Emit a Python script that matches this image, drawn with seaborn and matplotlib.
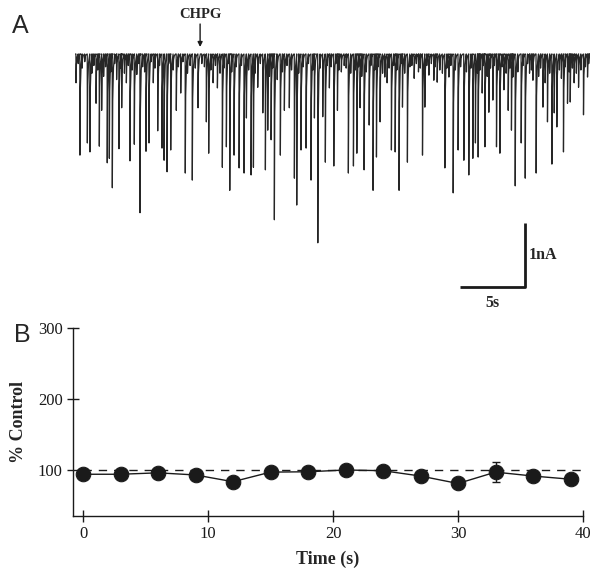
import numpy as np
import pandas as pd
import seaborn as sns
import matplotlib.pyplot as plt

sns.set_theme(style="white")
plt.rcParams['font.family'] = ['Liberation Serif', 'DejaVu Serif']

# ------------------------------------------------------------
# Panel A: dados do registro (tempo do evento em s, amplitude em nA)
# ------------------------------------------------------------
big_t = [0.08, 0.38, 0.95, 1.15, 1.62, 1.87, 2.05, 2.48, 2.64, 2.87, 3.38, 3.59,
         4.23, 4.56, 5.00, 5.46, 5.69, 6.02, 6.36, 6.69, 6.85, 7.08, 7.36, 7.79,
         8.13, 8.48, 9.02, 9.46, 10.10, 10.28, 10.62, 10.95, 11.33, 11.64, 11.90,
         12.23, 12.62, 13.00, 13.18, 13.54, 13.72, 14.05, 14.44, 14.64, 14.82,
         15.08, 15.33, 15.79, 16.10, 16.48, 16.87, 17.05, 17.38, 17.77, 18.15,
         18.41, 18.67, 19.05, 19.25, 19.56, 19.90, 20.18, 20.48, 21.02, 21.41,
         21.67, 21.92, 22.23, 22.62, 22.92, 23.18, 23.46, 23.82, 24.33, 24.62,
         24.92, 25.18, 25.56, 26.08, 26.41, 26.72, 26.90, 27.21, 27.59, 27.85,
         28.44, 28.75, 29.08, 29.46, 29.90, 30.28, 30.59, 30.79, 31.00, 31.31,
         31.52, 31.82, 32.13, 32.41, 32.67, 32.98, 33.31, 33.56, 33.67, 33.85,
         34.31, 34.62, 34.95, 35.21, 35.46, 35.98, 36.33, 36.67, 36.85, 37.05,
         37.56, 37.87, 38.08, 38.38, 38.72, 39.10, 39.41]
big_a = [0.45, 1.58, 1.39, 1.53, 0.77, 1.44, 0.88, 1.70, 1.63, 2.09, 1.48, 0.84,
         1.67, 1.41, 2.48, 1.52, 1.39, 0.45, 1.20, 1.47, 1.66, 1.84, 1.50, 0.88,
         0.61, 1.86, 1.97, 0.84, 1.06, 1.55, 0.45, 0.53, 1.77, 1.45, 2.13,
         1.58, 1.78, 1.86, 1.00, 1.89, 1.77, 0.52, 0.92, 1.81, 1.19,
         1.34, 2.59, 1.58, 0.88, 0.84, 1.94, 2.36, 1.50, 1.47, 1.97,
         1.00, 2.95, 0.98, 1.69, 0.53, 1.75, 0.88, 0.28, 1.86, 1.75,
         1.55, 0.84, 1.81, 1.11, 2.13, 1.61, 1.06, 0.36, 1.50, 1.53,
         2.13, 0.83, 1.69, 0.38, 0.28, 1.58, 0.83, 0.33, 0.41, 0.44,
         1.78, 0.36, 2.17, 1.50, 1.66, 1.89, 1.63, 1.39, 1.61, 0.61,
         1.45, 0.91, 0.72, 1.45, 1.55, 0.56, 0.88, 1.19, 0.36, 2.06,
         1.39, 1.94, 0.30, 0.41, 1.86, 0.83, 1.06, 1.72, 0.92, 1.14,
         1.53, 0.77, 0.75, 0.45, 0.52, 0.95, 0.36]

# eventos pequenos que formam a faixa escura junto da linha de base
small_t = [0.25, 0.55, 0.75, 1.30, 1.45, 1.75, 2.20, 2.35, 2.75, 3.05, 3.20, 3.50,
           3.80, 3.95, 4.10, 4.40, 4.75, 4.90, 5.20, 5.35, 5.85, 6.15, 6.50, 7.20,
           7.55, 7.95, 8.30, 8.65, 8.85, 9.25, 9.75, 9.95, 10.45, 10.80, 11.15,
           11.45, 11.80, 12.05, 12.40, 12.80, 13.35, 13.85, 14.25, 14.95, 15.20,
           15.55, 15.95, 16.30, 16.65, 17.20, 17.55, 17.95, 18.30, 18.85, 19.40,
           19.70, 20.05, 20.30, 20.70, 20.85, 21.20, 21.55, 21.80, 22.05, 22.40,
           22.75, 23.05, 23.30, 23.65, 24.00, 24.15, 24.50, 24.75, 25.05, 25.35,
           25.75, 25.90, 26.25, 26.55, 27.05, 27.40, 27.70, 28.05, 28.25, 28.60,
           28.90, 29.25, 29.65, 30.10, 30.45, 30.95, 31.15, 31.40, 31.70, 31.95,
           32.25, 32.55, 32.85, 33.15, 33.45, 34.05, 34.45, 34.80, 35.10, 35.65,
           35.80, 36.15, 36.50, 37.25, 37.40, 37.70, 38.00, 38.25, 38.55, 38.90,
           39.25, 39.50]
small_a = [0.15, 0.22, 0.12, 0.30, 0.18, 0.25, 0.35, 0.20, 0.28, 0.15, 0.40, 0.22,
           0.30, 0.45, 0.18, 0.25, 0.32, 0.15, 0.20, 0.28, 0.12, 0.22, 0.18, 0.15,
           0.25, 0.20, 0.12, 0.30, 0.18, 0.22, 0.15, 0.20, 0.25, 0.18, 0.30,
           0.22, 0.15, 0.28, 0.20, 0.18, 0.25, 0.30, 0.15, 0.35, 0.22,
           0.40, 0.28, 0.18, 0.25, 0.30, 0.20, 0.15, 0.25, 0.22, 0.18,
           0.20, 0.15, 0.25, 0.18, 0.22, 0.30, 0.25, 0.20, 0.35, 0.28,
           0.18, 0.25, 0.20, 0.30, 0.45, 0.22, 0.18, 0.25, 0.15, 0.30,
           0.20, 0.18, 0.15, 0.22, 0.18, 0.15, 0.20, 0.25, 0.30, 0.22,
           0.18, 0.25, 0.20, 0.28, 0.22, 0.30, 0.25, 0.18, 0.35, 0.22,
           0.18, 0.25, 0.20, 0.30, 0.22, 0.28, 0.18, 0.15, 0.25, 0.35,
           0.22, 0.45, 0.30, 0.25, 0.38, 0.20, 0.28, 0.22, 0.30, 0.25,
           0.20, 0.15]
trace_end = 39.6

# ------------------------------------------------------------
# Panel B: % do controle ao longo do tempo
# ------------------------------------------------------------
time_b = [0, 3, 6, 9, 12, 15, 18, 21, 24, 27, 30, 33, 36, 39]
pct_b = [94, 94, 96, 93, 83.5, 97, 97.5, 100, 99, 91.5, 81, 97, 91.5, 87]
err_b = [0, 0, 0, 0, 0, 0, 0, 0, 0, 0, 0, 14, 0, 0]
control_level = 100

# montar o traço: subida rápida, volta mais lenta à linha de base
ev = sorted(zip(big_t + small_t, big_a + small_a))
tt, ii = [0.0], [0.0]
for t, a in ev:
    tt += [t - 0.01, t, t + 0.03, t + 0.09, t + 0.18]
    ii += [0.0, -a, -0.35 * a, -0.1 * a, 0.0]
tt.append(trace_end)
ii.append(0.0)
trace = pd.DataFrame({"t": tt, "i": ii})

fig = plt.figure(figsize=(6.0, 5.81), dpi=100)

# ---------------- Panel A ----------------
axA = fig.add_axes([75 / 600, 271 / 581, 515 / 600, 270 / 581])
sns.lineplot(data=trace, x="t", y="i", sort=False, estimator=None,
             color="#262626", lw=0.9, ax=axA)
axA.set_xlim(0, trace_end)
axA.set_ylim(-4.0, 0.219)
axA.axis("off")

# barra de escala 5 s / 1 nA
sb_t0, sb_len, sb_i0, sb_h = 29.6, 5.0, -3.64, 1.0
axA.plot([sb_t0, sb_t0 + sb_len, sb_t0 + sb_len],
         [sb_i0, sb_i0, sb_i0 + sb_h], color="k", lw=2, solid_capstyle="butt")
axA.text(sb_t0 + sb_len + 0.3, sb_i0 + sb_h / 2, "1nA", fontsize=11.5,
         fontweight="bold", va="center", ha="left")
axA.text(sb_t0 + sb_len / 2, sb_i0 - 0.12, "5s", fontsize=11.5,
         fontweight="bold", va="top", ha="center")

axA.annotate("CHPG", xy=(9.62, 0.11), xytext=(9.62, 0.52),
             fontsize=10.5, fontweight="bold", ha="center", va="bottom",
             annotation_clip=False,
             arrowprops=dict(arrowstyle="-|>", color="k", lw=1,
                             mutation_scale=7, shrinkA=0, shrinkB=0))

fig.text(12 / 600, 1 - 33 / 581, "A", fontsize=18, family="Liberation Sans")

# ---------------- Panel B ----------------
axB = fig.add_axes([73 / 600, 65 / 581, 510 / 600, 188 / 581])
dfb = pd.DataFrame({"time": time_b, "pct": pct_b})
axB.hlines(control_level, 0, 40, colors="k", linestyles=(0, (6, 5)), lw=1)
axB.errorbar(time_b, pct_b, yerr=err_b, fmt="none", ecolor="k",
             elinewidth=1, capsize=3)
sns.lineplot(data=dfb, x="time", y="pct", color="k", lw=1, marker="o",
             markersize=10.5, markeredgecolor="k", ax=axB)
axB.set_xlim(-0.8, 40)
axB.set_ylim(35.2, 300)
axB.set_xticks([0, 10, 20, 30, 40])
axB.set_yticks([100, 200, 300])
sns.despine(ax=axB)
for s in ["left", "bottom"]:
    axB.spines[s].set_color("k")
    axB.spines[s].set_linewidth(1)
axB.tick_params(direction="inout", length=8, width=1, colors="k",
                labelsize=12, bottom=True, left=True)
axB.set_xlabel("Time (s)", fontsize=13, fontweight="bold", labelpad=6)
axB.set_ylabel("% Control", fontsize=13, fontweight="bold", labelpad=8)

fig.text(14 / 600, 1 - 342 / 581, "B", fontsize=18, family="Liberation Sans")

plt.savefig("out.png", dpi=100)
plt.close()
